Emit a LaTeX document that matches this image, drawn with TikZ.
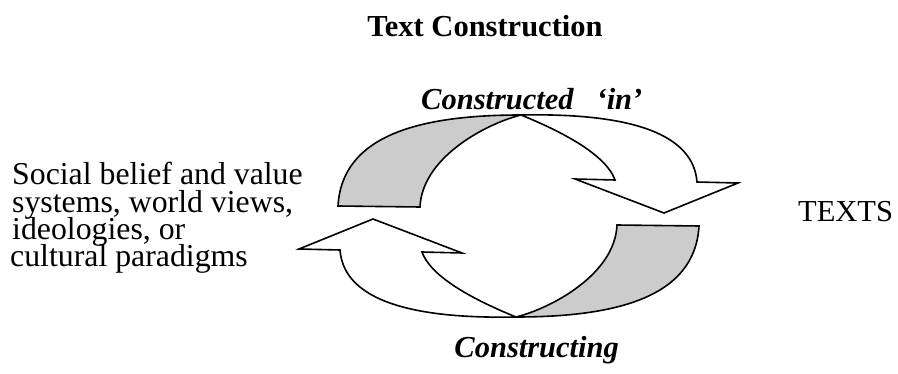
\documentclass[tikz,border=0pt]{standalone}
\usepackage{fontspec}
\setmainfont{Liberation Serif}
\definecolor{backgray}{HTML}{CCCCCC}
\begin{document}
\begin{tikzpicture}[x=1pt,y=-1pt,
  side/.style={inner sep=0pt, anchor=base west, font=\fontsize{31.8}{27}\selectfont},
  plain/.style={inner sep=0pt, font=\fontsize{30.5}{28}\selectfont},
  heading/.style={inner sep=0pt, anchor=base, font=\fontsize{30.5}{28}\selectfont\bfseries},
  cycle label/.style={inner sep=0pt, font=\fontsize{30.5}{28}\selectfont\bfseries\itshape},
  ribbon/.style={draw=black, line width=1.6pt, line join=miter},
  backface/.style={ribbon, fill=backgray},
  frontface/.style={ribbon, fill=white}]

\useasboundingbox (0,0) rectangle (898,374);

% title
\node[heading] (title) at (485,37) {Text Construction};

% left-hand text block
\node[side] (l1) at (12,185)   {Social belief and value};
\node[side] (l2) at (12,212.5) {systems, world views,};
\node[side] (l3) at (12,240)   {ideologies, or};
\node[side] (l4) at (10,267)   {cultural paradigms};

% right-hand text
\node[plain, anchor=base west] (texts) at (798,221.5) {TEXTS};

% labels of the two curved arrows
\node[cycle label, anchor=base west] (in) at (421,110) {Constructed\hspace{0.75em}‘in’};
\node[cycle label, anchor=base] (ing) at (536.7,358) {Constructing};

% the twisted ribbon arrow, drawn on top; the lower one is the same shape turned half a turn
\coordinate (C) at (518.5,216);
\foreach \ang/\nm in {0/upper, 180/lower}{
  \begin{scope}[rotate around={\ang:(C)}]
    \coordinate (T) at (521,115);
    % back face of the ribbon (shaded tail)
    \path[backface] (338,206) .. controls (342,135) and (420,115) .. (T)
                    .. controls (485,124) and (422,158) .. (420,207) -- cycle;
    % front face with the arrow head
    \path[frontface] (T) .. controls (621,113) and (693,130) .. (697,182)
                     -- (738,183) -- (664,213) -- (575,179) -- (615,180)
                     .. controls (605,152) and (553,128) .. (T) -- cycle;
  \end{scope}
}
\end{tikzpicture}
\end{document}
